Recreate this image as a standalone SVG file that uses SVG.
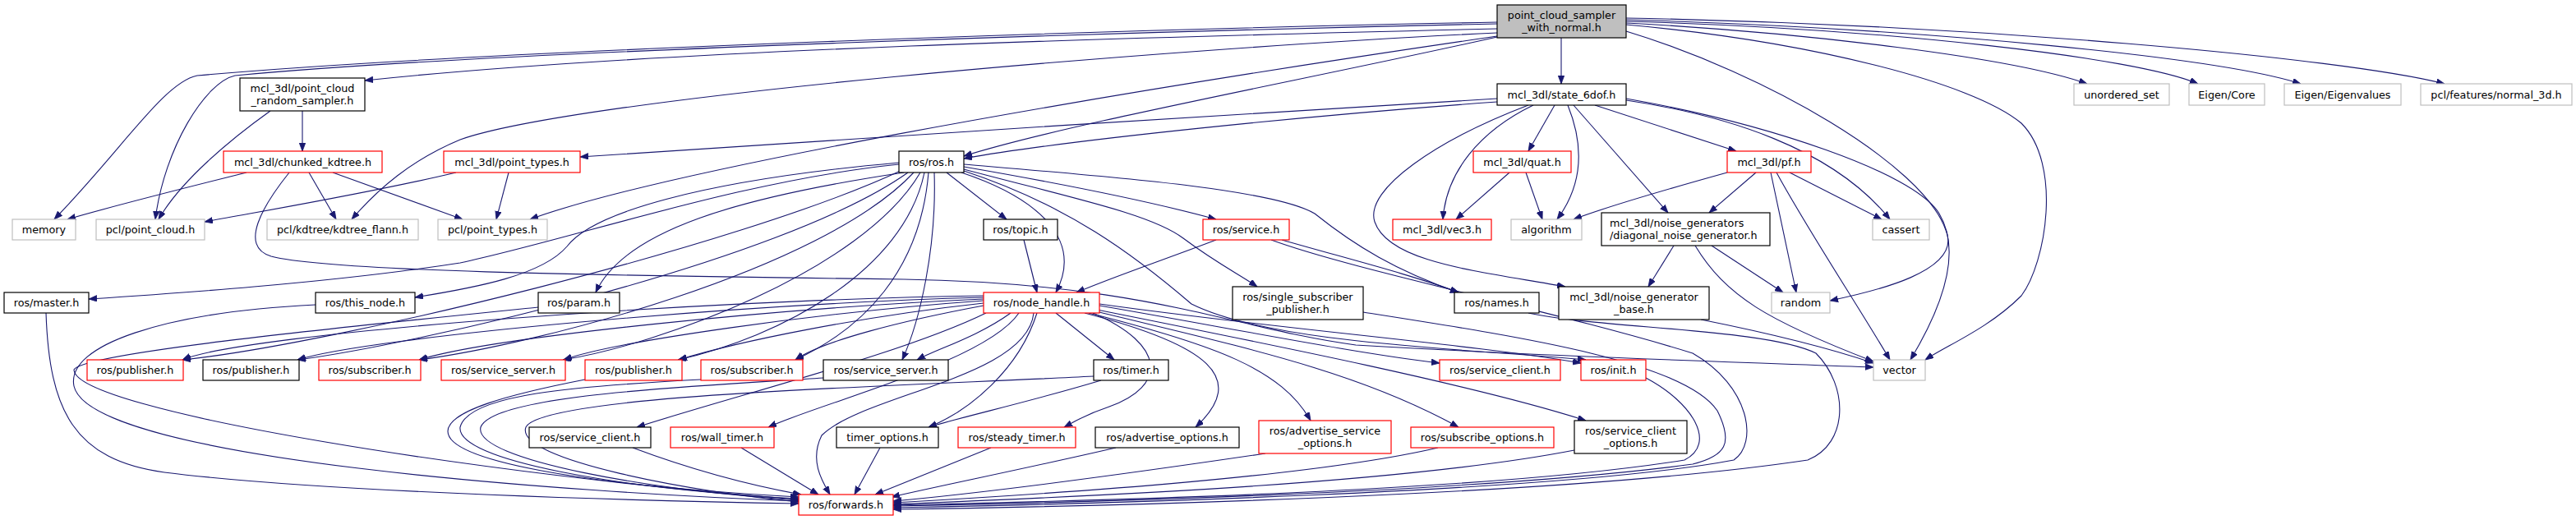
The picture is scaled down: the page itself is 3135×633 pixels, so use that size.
<svg xmlns="http://www.w3.org/2000/svg" width="3135" height="633" viewBox="0 0 3135 633">
<defs>
<marker id="ah" markerUnits="userSpaceOnUse" markerWidth="11" markerHeight="8" refX="10" refY="3.75" orient="auto">
<path d="M0,0 L10,3.75 L0,7.5 z" fill="#191970" stroke="#191970" stroke-width="0.8"/>
</marker>
</defs>
<style>
rect{fill:#ffffff;stroke-width:1.2}
rect.k{stroke:#000000}
rect.r{stroke:#ff0000}
rect.g{stroke:#bfbfbf}
rect.root{fill:#bfbfbf;stroke:#000000}
text{font-family:"DejaVu Sans","Liberation Sans",sans-serif;font-size:12.75px;fill:#000000;text-anchor:middle}
text.l{text-anchor:start}
#edges path{fill:none;stroke:#191970;stroke-width:1.1;marker-end:url(#ah)}
</style>
<rect width="3135" height="633" fill="#ffffff" stroke="none"/>
<g id="edges">
<path d="M1822,27 C1400,35 600,60 240,92 C200,100 150,180 66,267"/>
<path d="M1822,29 C1400,38 600,62 286,92 C250,100 200,180 189,267"/>
<path d="M1822,35 C1400,45 800,60 444,98"/>
<path d="M1822,40 C1400,60 700,120 560,170 C500,195 460,230 428,267"/>
<path d="M1822,44 C1300,120 800,210 645,267"/>
<path d="M1822,45 C1600,95 1300,150 1173,190"/>
<path d="M1900,46 L1900,102"/>
<path d="M1979,28 C2200,40 2450,70 2540,102"/>
<path d="M1979,26 C2300,35 2600,70 2675,102"/>
<path d="M1979,24 C2350,35 2700,70 2800,102"/>
<path d="M1979,22 C2400,30 2850,70 2975,102"/>
<path d="M1979,30 C2200,50 2400,100 2460,150 C2510,200 2490,320 2460,360 C2420,400 2370,420 2343,438"/>
<path d="M1979,38 C2150,90 2340,200 2368,280 C2390,330 2280,355 2227,366"/>
<path d="M368,135 L368,184"/>
<path d="M329,135 C280,170 220,220 193,267"/>
<path d="M300,210 C220,230 140,250 82,267"/>
<path d="M376,210 L409,267"/>
<path d="M405,210 L563,267"/>
<path d="M352,210 C320,250 290,300 330,312 C400,330 700,335 1100,340 C1400,345 1500,400 1650,420 C1900,435 2150,442 2280,447"/>
<path d="M555,210 C450,235 330,255 249,270"/>
<path d="M619,210 L604,267"/>
<path d="M1822,120 C1500,140 1000,170 706,191"/>
<path d="M1822,124 C1600,140 1300,170 1173,193"/>
<path d="M1892,128 L1860,184"/>
<path d="M1866,128 C1800,160 1760,210 1756,267"/>
<path d="M1908,128 C1925,170 1930,220 1895,267"/>
<path d="M1915,128 L2030,259"/>
<path d="M1941,128 L2113,184"/>
<path d="M1979,122 C2100,140 2230,180 2300,267"/>
<path d="M1979,120 C2150,150 2330,210 2360,260 C2390,310 2360,380 2325,438"/>
<path d="M1860,128 C1750,170 1660,230 1673,270 C1690,320 1800,330 1905,349"/>
<path d="M1837,210 L1772,267"/>
<path d="M1857,210 L1877,267"/>
<path d="M2102,210 C2030,230 1960,250 1915,267"/>
<path d="M2137,210 L2080,259"/>
<path d="M2155,210 L2186,356"/>
<path d="M2162,210 C2200,280 2260,370 2300,438"/>
<path d="M2178,210 L2290,267"/>
<path d="M2037,299 L2006,349"/>
<path d="M2083,299 L2170,356"/>
<path d="M2063,299 C2100,360 2150,390 2280,440"/>
<path d="M2070,389 C2150,405 2230,425 2280,442"/>
<path d="M1152,210 L1225,267"/>
<path d="M1170,210 C1260,240 1320,290 1285,356"/>
<path d="M1173,203 C1300,225 1400,245 1480,267"/>
<path d="M1173,200 C1350,215 1550,230 1600,260 C1650,300 1700,330 1775,356"/>
<path d="M1173,206 C1300,240 1400,260 1440,290 C1480,320 1510,335 1530,349"/>
<path d="M1173,208 C1300,250 1380,310 1450,370 C1550,420 1800,425 1930,438"/>
<path d="M1094,200 C900,220 700,290 560,320 C400,345 200,358 108,364"/>
<path d="M1094,198 C850,220 720,260 690,300 C660,335 580,350 505,362"/>
<path d="M1100,210 C900,240 760,280 725,356"/>
<path d="M1137,210 C1140,300 1120,390 1098,438"/>
<path d="M1130,210 C1120,330 1050,400 968,438"/>
<path d="M1125,210 C1100,330 950,410 825,438"/>
<path d="M1120,210 C1050,330 800,420 685,438"/>
<path d="M1112,210 C1000,330 650,420 510,438"/>
<path d="M1105,210 C950,320 500,420 362,438"/>
<path d="M1098,207 C900,300 400,420 222,438"/>
<path d="M1230,381 C1190,410 1140,425 1116,438"/>
<path d="M1197,372 C1100,390 1000,415 968,438"/>
<path d="M1197,369 C1050,385 900,415 826,438"/>
<path d="M1197,366 C1000,380 750,415 686,438"/>
<path d="M1197,364 C950,375 600,410 510,438"/>
<path d="M1197,362 C900,370 450,410 362,438"/>
<path d="M1197,360 C850,365 300,405 222,438"/>
<path d="M1200,381 C1100,430 900,480 775,520"/>
<path d="M1240,381 C1200,440 1000,490 935,520"/>
<path d="M1285,381 L1356,438"/>
<path d="M1262,381 C1240,450 1180,500 1130,520"/>
<path d="M1340,463 C1250,490 1180,505 1130,520"/>
<path d="M1330,381 C1420,420 1420,470 1350,495 C1320,505 1310,512 1295,520"/>
<path d="M1320,381 C1470,420 1520,460 1455,520"/>
<path d="M1325,381 C1480,420 1560,450 1595,512"/>
<path d="M1330,378 C1500,420 1650,450 1775,520"/>
<path d="M1335,377 C1550,420 1800,470 1930,512"/>
<path d="M1338,372 C1500,400 1650,430 1752,442"/>
<path d="M1338,370 C1550,400 1800,420 1924,442"/>
<path d="M56,381 C60,500 90,560 200,575 C400,600 800,610 972,613"/>
<path d="M384,371 C200,380 80,420 90,470 C110,560 700,600 972,610"/>
<path d="M655,374 C400,400 100,430 90,450 C90,500 600,580 972,608"/>
<path d="M712,462 C620,480 545,500 545,525 C545,560 700,590 972,605"/>
<path d="M853,462 C700,470 570,480 560,520 C555,560 750,595 972,607"/>
<path d="M1002,460 C850,470 600,480 585,520 C575,560 800,598 972,609"/>
<path d="M1331,458 C1100,470 660,480 640,520 C625,560 850,600 972,611"/>
<path d="M770,545 C850,575 920,592 975,602"/>
<path d="M902,545 L996,602"/>
<path d="M1071,545 L1040,602"/>
<path d="M1206,545 L1065,602"/>
<path d="M1358,545 C1250,570 1150,590 1085,605"/>
<path d="M1540,552 C1350,580 1200,600 1087,610"/>
<path d="M1750,545 C1600,580 1300,600 1087,612"/>
<path d="M1916,548 C1700,590 1300,605 1087,614"/>
<path d="M2003,460 C2060,490 2090,540 2050,560 C1800,600 1300,610 1087,615"/>
<path d="M1659,380 C1850,410 2050,440 2090,500 C2110,540 2100,555 2060,565 C1800,600 1300,612 1087,616"/>
<path d="M1547,292 C1650,330 1900,380 2060,430 C2130,470 2140,540 2110,560 C1900,600 1300,614 1087,618"/>
<path d="M1860,381 C1950,400 2150,400 2210,430 C2250,470 2250,540 2200,560 C1900,605 1300,617 1087,620"/>
<path d="M1258,381 C1250,460 1050,480 1000,530 C985,560 1000,585 1010,602"/>
<path d="M1246,292 L1262,356"/>
<path d="M1480,292 C1420,315 1360,335 1310,356"/>
<path d="M1560,292 C1640,315 1720,335 1775,356"/>
</g>
<g id="n0"><rect class="root" x="1822" y="6" width="157" height="40"/><text x="1900.5" y="22.5">point_cloud_sampler</text><text x="1900.5" y="37.5">_with_normal.h</text></g>
<g id="n1"><rect class="k" x="292" y="95" width="152" height="40"/><text x="368" y="111.5">mcl_3dl/point_cloud</text><text x="368" y="126.5">_random_sampler.h</text></g>
<g id="n2"><rect class="r" x="272" y="184" width="193" height="26"/><text x="368.5" y="201.5">mcl_3dl/chunked_kdtree.h</text></g>
<g id="n3"><rect class="r" x="540" y="184" width="166" height="26"/><text x="623" y="201.5">mcl_3dl/point_types.h</text></g>
<g id="n4"><rect class="g" x="15" y="267" width="77" height="25"/><text x="53.5" y="283.5">memory</text></g>
<g id="n5"><rect class="g" x="117" y="267" width="132" height="25"/><text x="183" y="283.5">pcl/point_cloud.h</text></g>
<g id="n6"><rect class="g" x="325" y="267" width="184" height="25"/><text x="417" y="283.5">pcl/kdtree/kdtree_flann.h</text></g>
<g id="n7"><rect class="g" x="533" y="267" width="133" height="25"/><text x="599.5" y="283.5">pcl/point_types.h</text></g>
<g id="n8"><rect class="k" x="1094" y="184" width="79" height="26"/><text x="1133.5" y="201.5">ros/ros.h</text></g>
<g id="n9"><rect class="k" x="1197" y="267" width="90" height="25"/><text x="1242" y="283.5">ros/topic.h</text></g>
<g id="n10"><rect class="r" x="1464" y="267" width="105" height="25"/><text x="1516.5" y="283.5">ros/service.h</text></g>
<g id="n11"><rect class="k" x="1822" y="102" width="157" height="26"/><text x="1900.5" y="119.5">mcl_3dl/state_6dof.h</text></g>
<g id="n12"><rect class="r" x="1793" y="184" width="119" height="26"/><text x="1852.5" y="201.5">mcl_3dl/quat.h</text></g>
<g id="n13"><rect class="r" x="2102" y="184" width="102" height="26"/><text x="2153" y="201.5">mcl_3dl/pf.h</text></g>
<g id="n14"><rect class="r" x="1695" y="267" width="120" height="25"/><text x="1755" y="283.5">mcl_3dl/vec3.h</text></g>
<g id="n15"><rect class="g" x="1839" y="267" width="86" height="25"/><text x="1882" y="283.5">algorithm</text></g>
<g id="n16"><rect class="k" x="1949" y="259" width="205" height="40"/><text class="l" x="1959" y="275.5">mcl_3dl/noise_generators</text><text class="l" x="1959" y="290.5">/diagonal_noise_generator.h</text></g>
<g id="n17"><rect class="g" x="2279" y="267" width="69" height="25"/><text x="2313.5" y="283.5">cassert</text></g>
<g id="n18"><rect class="g" x="2524" y="102" width="116" height="26"/><text x="2582" y="119.5">unordered_set</text></g>
<g id="n19"><rect class="g" x="2664" y="102" width="92" height="26"/><text x="2710" y="119.5">Eigen/Core</text></g>
<g id="n20"><rect class="g" x="2780" y="102" width="142" height="26"/><text x="2851" y="119.5">Eigen/Eigenvalues</text></g>
<g id="n21"><rect class="g" x="2946" y="102" width="184" height="26"/><text x="3038" y="119.5">pcl/features/normal_3d.h</text></g>
<g id="n22"><rect class="k" x="5" y="356" width="103" height="25"/><text x="56.5" y="372.5">ros/master.h</text></g>
<g id="n23"><rect class="k" x="384" y="356" width="121" height="25"/><text x="444.5" y="372.5">ros/this_node.h</text></g>
<g id="n24"><rect class="k" x="655" y="356" width="99" height="25"/><text x="704.5" y="372.5">ros/param.h</text></g>
<g id="n25"><rect class="r" x="1197" y="356" width="141" height="25"/><text x="1267.5" y="372.5">ros/node_handle.h</text></g>
<g id="n26"><rect class="k" x="1500" y="349" width="159" height="40"/><text x="1579.5" y="365.5">ros/single_subscriber</text><text x="1579.5" y="380.5">_publisher.h</text></g>
<g id="n27"><rect class="k" x="1770" y="356" width="103" height="25"/><text x="1821.5" y="372.5">ros/names.h</text></g>
<g id="n28"><rect class="k" x="1897" y="349" width="183" height="40"/><text x="1988.5" y="365.5">mcl_3dl/noise_generator</text><text x="1988.5" y="380.5">_base.h</text></g>
<g id="n29"><rect class="g" x="2156" y="356" width="71" height="25"/><text x="2191.5" y="372.5">random</text></g>
<g id="n30"><rect class="r" x="106" y="438" width="117" height="25"/><text x="164.5" y="454.5">ros/publisher.h</text></g>
<g id="n31"><rect class="k" x="247" y="438" width="117" height="25"/><text x="305.5" y="454.5">ros/publisher.h</text></g>
<g id="n32"><rect class="r" x="388" y="438" width="124" height="25"/><text x="450" y="454.5">ros/subscriber.h</text></g>
<g id="n33"><rect class="r" x="537" y="438" width="151" height="25"/><text x="612.5" y="454.5">ros/service_server.h</text></g>
<g id="n34"><rect class="r" x="712" y="438" width="118" height="25"/><text x="771" y="454.5">ros/publisher.h</text></g>
<g id="n35"><rect class="r" x="853" y="438" width="124" height="25"/><text x="915" y="454.5">ros/subscriber.h</text></g>
<g id="n36"><rect class="k" x="1002" y="438" width="152" height="25"/><text x="1078" y="454.5">ros/service_server.h</text></g>
<g id="n37"><rect class="k" x="1331" y="438" width="91" height="25"/><text x="1376.5" y="454.5">ros/timer.h</text></g>
<g id="n38"><rect class="r" x="1752" y="438" width="147" height="25"/><text x="1825.5" y="454.5">ros/service_client.h</text></g>
<g id="n39"><rect class="r" x="1924" y="438" width="79" height="25"/><text x="1963.5" y="454.5">ros/init.h</text></g>
<g id="n40"><rect class="g" x="2280" y="438" width="63" height="25"/><text x="2311.5" y="454.5">vector</text></g>
<g id="n41"><rect class="k" x="644" y="520" width="148" height="25"/><text x="718" y="536.5">ros/service_client.h</text></g>
<g id="n42"><rect class="r" x="816" y="520" width="126" height="25"/><text x="879" y="536.5">ros/wall_timer.h</text></g>
<g id="n43"><rect class="k" x="1018" y="520" width="124" height="25"/><text x="1080" y="536.5">timer_options.h</text></g>
<g id="n44"><rect class="r" x="1166" y="520" width="143" height="25"/><text x="1237.5" y="536.5">ros/steady_timer.h</text></g>
<g id="n45"><rect class="k" x="1333" y="520" width="175" height="25"/><text x="1420.5" y="536.5">ros/advertise_options.h</text></g>
<g id="n46"><rect class="r" x="1532" y="512" width="161" height="40"/><text x="1612.5" y="528.5">ros/advertise_service</text><text x="1612.5" y="543.5">_options.h</text></g>
<g id="n47"><rect class="r" x="1717" y="520" width="174" height="25"/><text x="1804" y="536.5">ros/subscribe_options.h</text></g>
<g id="n48"><rect class="k" x="1916" y="512" width="137" height="40"/><text x="1984.5" y="528.5">ros/service_client</text><text x="1984.5" y="543.5">_options.h</text></g>
<g id="n49"><rect class="r" x="972" y="602" width="115" height="25"/><text x="1029.5" y="618.5">ros/forwards.h</text></g>
</svg>
